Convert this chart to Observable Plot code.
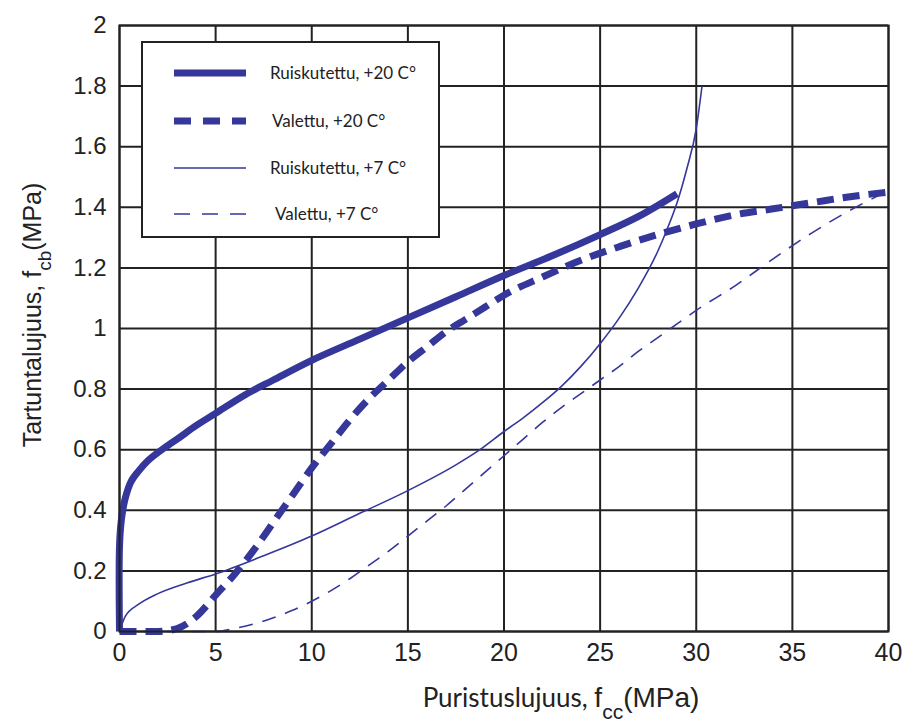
<!DOCTYPE html>
<html>
<head>
<meta charset="utf-8">
<script src="https://cdn.jsdelivr.net/npm/d3@7"></script>
<script src="https://cdn.jsdelivr.net/npm/@observablehq/plot@0.6"></script>
<style>
  body { margin: 0; background: #fff; }
  #wrap { position: relative; width: 909px; height: 725px; }
  #legend { position: absolute; left: 141px; top: 41px; width: 299px; height: 197px;
    background: #fff; border: 2px solid #222; box-sizing: border-box; }
  #legend svg { position: absolute; left: 0; top: 0; }
</style>
</head>
<body>
<div id="wrap"></div>
<script>
// ---- data ----
const seriesNames = ["Ruiskutettu, +20 C°", "Valettu, +20 C°", "Ruiskutettu, +7 C°", "Valettu, +7 C°"];

const ruisk20X = [0, 0, 0.1, 0.3, 0.6, 1, 1.5, 2.2, 3, 4, 5, 6.5, 8, 10, 12.5, 15, 17.5, 20, 22.5, 25, 27, 29];
const ruisk20Y = [0, 0.28, 0.37, 0.44, 0.495, 0.53, 0.565, 0.60, 0.635, 0.68, 0.72, 0.78, 0.83, 0.895, 0.965, 1.035, 1.105, 1.175, 1.24, 1.31, 1.37, 1.445];

const valet20X = [0, 1, 2, 3, 4, 5, 6, 7, 8, 9, 10, 11, 12, 13, 14, 15, 16, 17, 18, 19, 20, 22, 24, 26, 28, 30, 32, 34, 36, 38, 40];
const valet20Y = [0, 0, 0, 0.01, 0.05, 0.12, 0.19, 0.27, 0.36, 0.45, 0.54, 0.62, 0.70, 0.77, 0.83, 0.89, 0.94, 0.99, 1.03, 1.07, 1.11, 1.17, 1.225, 1.27, 1.31, 1.345, 1.375, 1.395, 1.415, 1.435, 1.45];

const ruisk7X = [0, 0.3, 1, 2, 3.5, 5, 7.5, 10, 12.5, 15, 17.5, 18.75, 20, 21, 22, 23, 24, 25, 26, 27, 28, 28.5, 29, 29.5, 30, 30.3];
const ruisk7Y = [0, 0.05, 0.09, 0.125, 0.16, 0.19, 0.25, 0.315, 0.39, 0.465, 0.55, 0.60, 0.66, 0.705, 0.755, 0.81, 0.875, 0.95, 1.035, 1.135, 1.255, 1.33, 1.415, 1.525, 1.66, 1.80];

const valet7X = [0, 3, 5, 6, 7, 8, 9, 10, 11, 12, 13, 14, 15, 16, 17, 18, 19, 20, 21, 22, 23, 24, 25, 26, 27, 28, 29, 30, 32, 34, 36, 38, 40];
const valet7Y = [0, 0, 0, 0.01, 0.025, 0.045, 0.07, 0.1, 0.135, 0.175, 0.22, 0.265, 0.315, 0.365, 0.415, 0.47, 0.525, 0.58, 0.635, 0.69, 0.74, 0.785, 0.83, 0.875, 0.925, 0.97, 1.015, 1.06, 1.14, 1.23, 1.315, 1.39, 1.455];

const xTicks = [0, 5, 10, 15, 20, 25, 30, 35, 40];
const yTicks = [0, 0.2, 0.4, 0.6, 0.8, 1, 1.2, 1.4, 1.6, 1.8, 2];

const xLabelMain = "Puristuslujuus, ";
const xLabelSym = "f", xLabelSub = "cc", xLabelUnit = "(MPa)";
const yLabelMain = "Tartuntalujuus, ";
const yLabelSym = "f", yLabelSub = "cb", yLabelUnit = "(MPa)";

// ---- styles ----
const blue = "#35379a";
const styles = [
  {strokeWidth: 7, dash: null, curve: "catmull-rom"},
  {strokeWidth: 7, dash: "17,9", curve: "monotone-x"},
  {strokeWidth: 1.6, dash: null, curve: "monotone-x"},
  {strokeWidth: 1.6, dash: "14,10", curve: "monotone-x"}
];

const toRows = (xs, ys) => xs.map((x, i) => ({x, y: ys[i]}));
const series = [toRows(ruisk20X, ruisk20Y), toRows(valet20X, valet20Y), toRows(ruisk7X, ruisk7Y), toRows(valet7X, valet7Y)];

const fmt = d => String(+(+d).toFixed(1));

const chart = Plot.plot({
  width: 909,
  height: 725,
  marginLeft: 119,
  marginRight: 21,
  marginTop: 25,
  marginBottom: 94,
  style: {fontFamily: "'Liberation Sans', Arial, sans-serif", background: "#fff", overflow: "visible"},
  x: {domain: [0, 40]},
  y: {domain: [0, 2]},
  marks: [
    Plot.gridX(xTicks, {stroke: "#222", strokeOpacity: 1, strokeWidth: 2}),
    Plot.gridY(yTicks, {stroke: "#222", strokeOpacity: 1, strokeWidth: 2}),
    Plot.axisX(xTicks, {tickSize: 0, tickPadding: 12, fontSize: 25, label: null, tickFormat: fmt, fill: "#222"}),
    Plot.axisY(yTicks, {tickSize: 0, tickPadding: 13, fontSize: 24, label: null, tickFormat: fmt, fill: "#222"}),
    ...series.map((rows, i) => Plot.line(rows, {
      x: "x", y: "y", curve: styles[i].curve,
      stroke: blue, strokeWidth: styles[i].strokeWidth,
      strokeDasharray: styles[i].dash, strokeLinecap: "butt", strokeLinejoin: "round"
    })),
    Plot.frame({stroke: "#222", strokeWidth: 2})
  ]
});

const wrap = document.getElementById("wrap");
wrap.appendChild(chart);

// axis labels with subscripts
const svg = d3.select(chart);
const sans = "'Liberation Sans', Arial, sans-serif";
const xl = svg.append("text")
  .attr("x", 561).attr("y", 707).attr("text-anchor", "middle")
  .attr("fill", "#222").attr("font-size", 28);
xl.append("tspan").attr("font-family", "Lato, sans-serif").attr("font-size", 26).text(xLabelMain);
xl.append("tspan").attr("font-family", sans).text(xLabelSym);
xl.append("tspan").attr("font-family", sans).attr("font-size", 21).attr("dy", 12).text(xLabelSub);
xl.append("tspan").attr("font-family", sans).attr("dy", -12).text(xLabelUnit);

const yl = svg.append("text")
  .attr("transform", "translate(41,315) rotate(-90)").attr("text-anchor", "middle")
  .attr("fill", "#222").attr("font-size", 25).attr("font-family", sans);
yl.append("tspan").text(yLabelMain + yLabelSym);
yl.append("tspan").attr("font-size", 19).attr("dy", 10).text(yLabelSub);
yl.append("tspan").attr("dy", -10).text(yLabelUnit);

// legend
const legend = document.createElement("div");
legend.id = "legend";
wrap.appendChild(legend);
const lsvg = d3.select(legend).append("svg").attr("width", 299).attr("height", 197);
const rowsY = [30, 78, 125, 171];
const textX = [127, 129, 127, 132];
seriesNames.forEach((name, i) => {
  lsvg.append("line").attr("x1", 31).attr("x2", 103).attr("y1", rowsY[i]).attr("y2", rowsY[i])
    .attr("stroke", blue).attr("stroke-width", styles[i].strokeWidth)
    .attr("stroke-dasharray", i === 1 ? "17,12" : i === 3 ? "16,12" : null);
  lsvg.append("text").attr("x", textX[i]).attr("y", rowsY[i]).attr("dy", "0.35em")
    .attr("font-family", "Lato, sans-serif").attr("font-size", 17).attr("fill", "#222")
    .text(name);
});
</script>
</body>
</html>
